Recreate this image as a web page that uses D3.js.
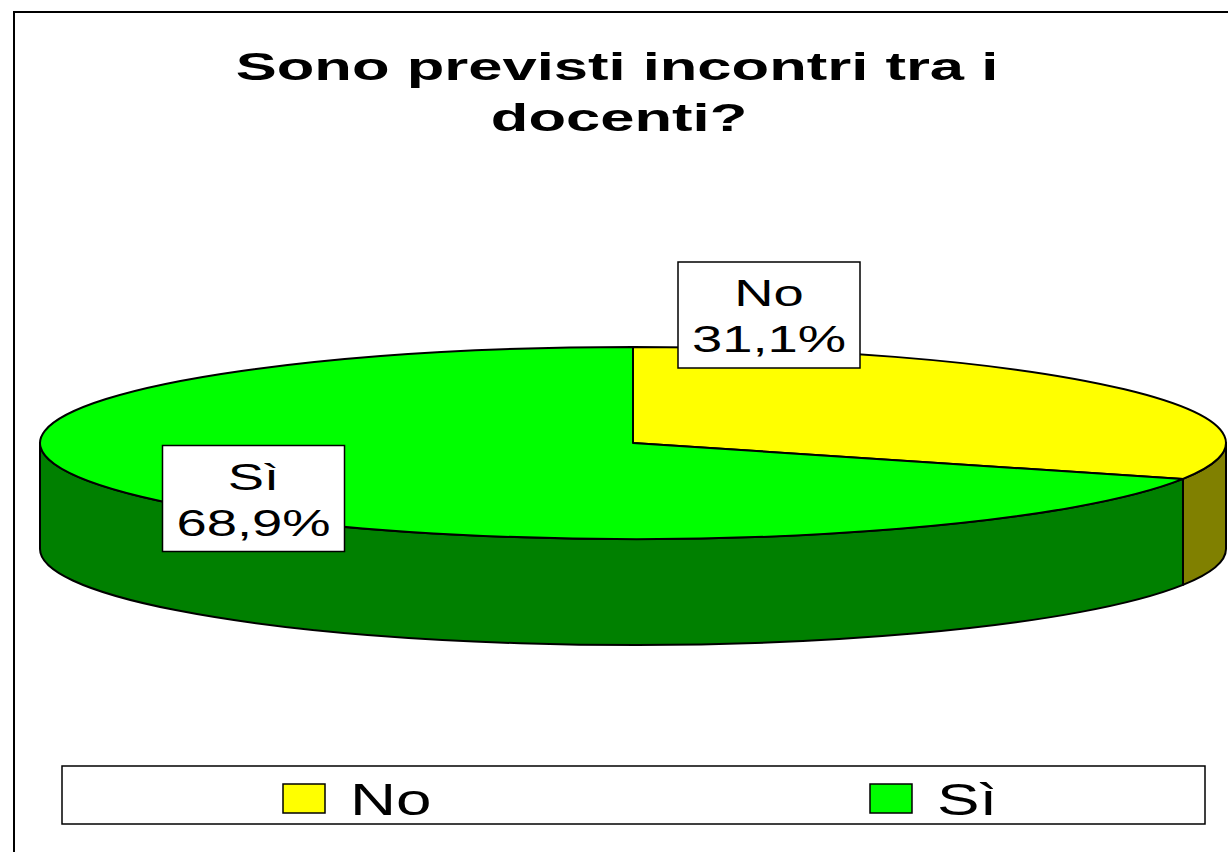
<!DOCTYPE html>
<html>
<head>
<meta charset="utf-8">
<script src="https://cdn.jsdelivr.net/npm/d3@7"></script>
<style>
  body { margin: 0; background: #fff; }
  text { font-family: "Liberation Sans", Arial, sans-serif; fill: #000; }
</style>
</head>
<body>
<div id="chart"></div>
<script>
var width = 1228,
    height = 852;

// data
var categories = ["No", "Sì"];
var values = [31.1, 68.9];
var labels = ["31,1%", "68,9%"];
var titleLines = ["Sono previsti incontri tra i", "docenti?"];

var topColors = ["#ffff00", "#00ff00"];
var sideColors = ["#808000", "#008000"];

// text in the original is stretched sideways
var stretch = 1.47;

var svg = d3.select("#chart")
    .append("svg")
    .attr("width", width)
    .attr("height", height);

svg.append("rect")
  .attr("width", width).attr("height", height)
  .attr("fill", "#fff");

// outer frame (runs off the right and bottom edges)
svg.append("rect")
  .attr("x", 14).attr("y", 12)
  .attr("width", width + 20).attr("height", height + 20)
  .attr("fill", "none")
  .attr("stroke", "#000")
  .attr("stroke-width", 2);

// title
svg.selectAll(".title")
  .data(titleLines)
  .join("text")
  .attr("class", "title")
  .attr("transform", function(d, i) { return "translate(" + (617 + i * 2) + "," + (80 + i * 51) + ") scale(1.62,1)"; })
  .attr("text-anchor", "middle")
  .style("font-size", "38px")
  .style("font-weight", "bold")
  .text(function(d) { return d; });

// 3d pie geometry
var cx = 633, cy = 443, rx = 593, ry = 96, depth = 106;

function pt(a, dy) {
  return [cx + rx * Math.sin(a), cy - ry * Math.cos(a) + (dy || 0)];
}

var pie = d3.pie().sort(null).value(function(d) { return d; });
var arcs = pie(values);

// front wall pieces, only the part between 90 and 270 degrees can be seen
function wallPath(d) {
  var a0 = Math.max(d.startAngle, Math.PI / 2),
      a1 = Math.min(d.endAngle, Math.PI * 3 / 2);
  if (a1 <= a0) return null;
  var p0 = pt(a0), p1 = pt(a1), q1 = pt(a1, depth), q0 = pt(a0, depth);
  return "M" + p0 + "A" + rx + "," + ry + " 0 0 1 " + p1 +
    "L" + q1 + "A" + rx + "," + ry + " 0 0 0 " + q0 + "Z";
}

svg.selectAll(".wall")
  .data(arcs)
  .join("path")
  .attr("class", "wall")
  .attr("d", wallPath)
  .attr("fill", function(d, i) { return sideColors[i]; })
  .attr("stroke", "#000")
  .attr("stroke-width", 2)
  .attr("stroke-linejoin", "round");

function topPath(d) {
  var p0 = pt(d.startAngle), p1 = pt(d.endAngle);
  var large = (d.endAngle - d.startAngle) > Math.PI ? 1 : 0;
  return "M" + cx + "," + cy + "L" + p0 + "A" + rx + "," + ry + " 0 " + large + " 1 " + p1 + "Z";
}

svg.selectAll(".slice")
  .data(arcs)
  .join("path")
  .attr("class", "slice")
  .attr("d", topPath)
  .attr("fill", function(d, i) { return topColors[i]; })
  .attr("stroke", "#000")
  .attr("stroke-width", 2)
  .attr("stroke-linejoin", "round");

// data labels
var labelPos = [[769, 315], [253.5, 498.5]];
var boxW = 182, boxH = 106;

var lab = svg.selectAll(".lab")
  .data(arcs)
  .join("g")
  .attr("class", "lab")
  .attr("transform", function(d, i) { return "translate(" + labelPos[i] + ")"; });

lab.append("rect")
  .attr("x", -boxW / 2).attr("y", -boxH / 2)
  .attr("width", boxW).attr("height", boxH)
  .attr("fill", "#fff")
  .attr("stroke", "#000")
  .attr("stroke-width", 1.5);

lab.append("text")
  .attr("transform", "translate(0,-9) scale(" + stretch + ",1)")
  .attr("text-anchor", "middle")
  .style("font-size", "37px")
  .text(function(d, i) { return categories[i]; });

lab.append("text")
  .attr("transform", "translate(0,37) scale(" + stretch + ",1)")
  .attr("text-anchor", "middle")
  .style("font-size", "37px")
  .text(function(d, i) { return labels[i]; });

// legend
svg.append("rect")
  .attr("x", 62).attr("y", 766)
  .attr("width", 1143).attr("height", 58)
  .attr("fill", "#fff")
  .attr("stroke", "#000")
  .attr("stroke-width", 1.5);

var lx = d3.scalePoint().domain(categories).range([283, 870]);

var leg = svg.selectAll(".leg")
  .data(categories)
  .join("g")
  .attr("class", "leg")
  .attr("transform", function(d) { return "translate(" + lx(d) + ",784)"; });

leg.append("rect")
  .attr("width", 42).attr("height", 29)
  .attr("fill", function(d, i) { return topColors[i]; })
  .attr("stroke", "#000")
  .attr("stroke-width", 1.5);

leg.append("text")
  .attr("transform", "translate(67,31) scale(1.45,1)")
  .style("font-size", "44px")
  .text(function(d) { return d; });
</script>
</body>
</html>
